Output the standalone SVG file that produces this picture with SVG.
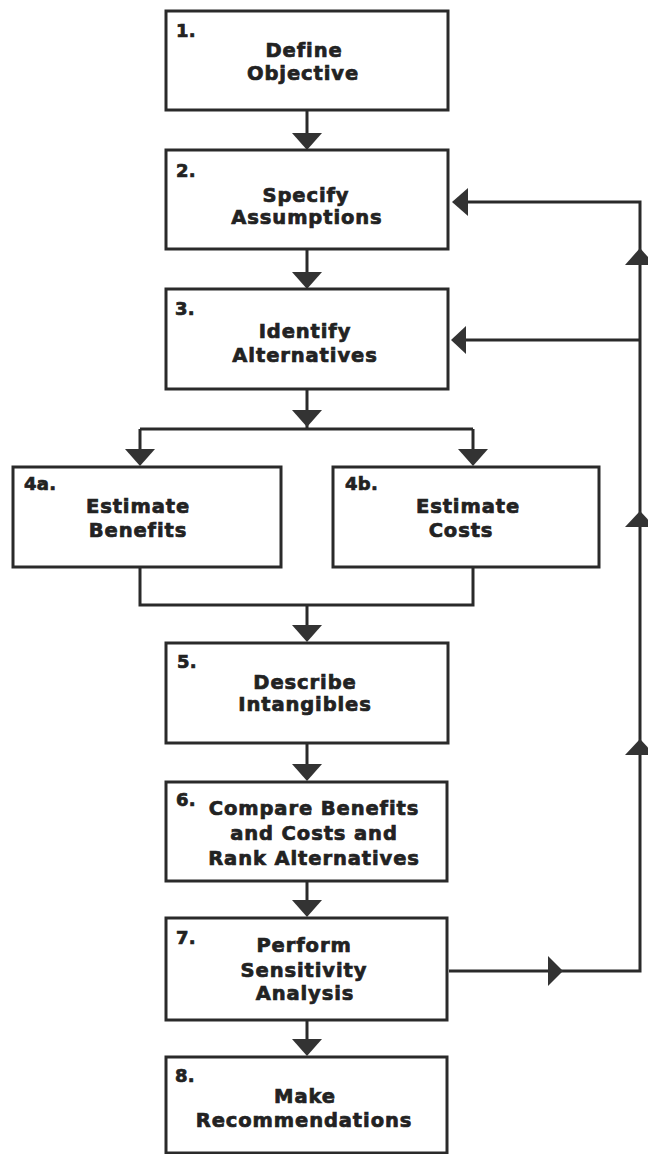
<svg xmlns="http://www.w3.org/2000/svg" width="648" height="1154" viewBox="0 0 648 1154">
<defs>
<style>
.box{fill:#fff;stroke:#2a2a2a;stroke-width:3}
.ln{fill:none;stroke:#2a2a2a;stroke-width:3}
.ah{fill:#333;stroke:none}
text{font-family:"DejaVu Sans","Liberation Sans",sans-serif;font-weight:bold;font-size:19.5px;fill:#222;stroke:#222;stroke-width:0.7px;letter-spacing:0.9px}
.t{text-anchor:middle}
.n{font-size:18px;letter-spacing:0.3px}
</style>
</defs>
<rect width="648" height="1154" fill="#fff"/>
<g id="connectors">
<path class="ln" d="M307 110V140M307 249V280M307 389V429M140 429H473M140 429V455M473 429V455M140 567V605H473V567M307 605V630M307 743V768M307 881V905M307 1020V1045"/>
<path class="ln" d="M449 971H640V202H462M640 340H460"/>
<polygon class="ah" points="292,133 322,133 307,150"/>
<polygon class="ah" points="292,272 322,272 307,289"/>
<polygon class="ah" points="292,410 322,410 307,427"/>
<polygon class="ah" points="125,449 155,449 140,466"/>
<polygon class="ah" points="458,449 488,449 473,466"/>
<polygon class="ah" points="292,625 322,625 307,642"/>
<polygon class="ah" points="292,764 322,764 307,781"/>
<polygon class="ah" points="292,900 322,900 307,917"/>
<polygon class="ah" points="292,1039 322,1039 307,1056"/>
<polygon class="ah" points="468,188 468,216 452,202"/>
<polygon class="ah" points="466,326 466,354 451,340"/>
<polygon class="ah" points="625,265 655,265 640,248"/>
<polygon class="ah" points="625,527 655,527 640,511"/>
<polygon class="ah" points="625,755 655,755 640,739"/>
<polygon class="ah" points="548,956 548,986 563,971"/>
</g>
<g id="n1">
<rect class="box" x="166" y="11" width="282" height="99"/>
<text class="n" x="176" y="37">1.</text>
<text class="t" x="304" y="57">Define</text>
<text class="t" x="303" y="80">Objective</text>
</g>
<g id="n2">
<rect class="box" x="166" y="150" width="282" height="99"/>
<text class="n" x="176" y="177">2.</text>
<text class="t" x="306" y="202">Specify</text>
<text class="t" x="307" y="224">Assumptions</text>
</g>
<g id="n3">
<rect class="box" x="166" y="289" width="282" height="100"/>
<text class="n" x="175" y="315">3.</text>
<text class="t" x="305" y="338">Identify</text>
<text class="t" x="305" y="362">Alternatives</text>
</g>
<g id="n4a">
<rect class="box" x="13" y="467" width="268" height="100"/>
<text class="n" x="24" y="490">4a.</text>
<text class="t" x="138" y="513">Estimate</text>
<text class="t" x="138" y="537">Benefits</text>
</g>
<g id="n4b">
<rect class="box" x="333" y="467" width="266" height="100"/>
<text class="n" x="345" y="490">4b.</text>
<text class="t" x="468" y="513">Estimate</text>
<text class="t" x="461" y="537">Costs</text>
</g>
<g id="n5">
<rect class="box" x="166" y="643" width="282" height="100"/>
<text class="n" x="177" y="668">5.</text>
<text class="t" x="305" y="689">Describe</text>
<text class="t" x="305" y="711">Intangibles</text>
</g>
<g id="n6">
<rect class="box" x="166" y="782" width="281" height="99"/>
<text class="n" x="176" y="806">6.</text>
<text class="t" x="314" y="815">Compare Benefits</text>
<text class="t" x="314" y="840">and Costs and</text>
<text class="t" x="314" y="865">Rank Alternatives</text>
</g>
<g id="n7">
<rect class="box" x="166" y="918" width="281" height="102"/>
<text class="n" x="176" y="944">7.</text>
<text class="t" x="304" y="952">Perform</text>
<text class="t" x="304" y="977">Sensitivity</text>
<text class="t" x="305" y="1000">Analysis</text>
</g>
<g id="n8">
<rect class="box" x="166" y="1057" width="281" height="96"/>
<text class="n" x="175" y="1082">8.</text>
<text class="t" x="305" y="1103">Make</text>
<text class="t" x="304" y="1127">Recommendations</text>
</g>
</svg>
